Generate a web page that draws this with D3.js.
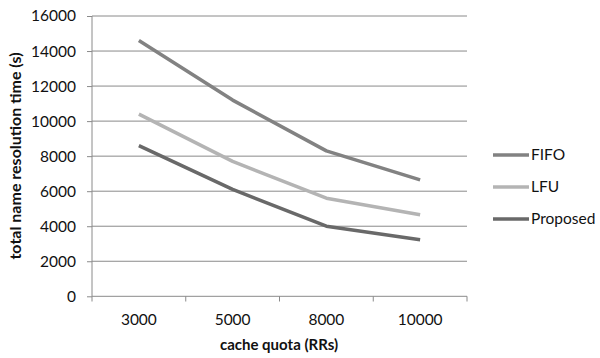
<!DOCTYPE html>
<html><head><meta charset="utf-8">
<script src="https://cdn.jsdelivr.net/npm/d3@7"></script>
<style>body{margin:0;background:#fff}svg{display:block}text{font-family:Lato,"Open Sans",sans-serif;fill:#111}</style>
</head><body><div id="c"></div>
<script>
const categories = ["3000","5000","8000","10000"];
const fifo = [14600, 11200, 8300, 6650];
const lfu = [10400, 7700, 5600, 4650];
const proposed = [8600, 6100, 4000, 3230];
const yTicks = [0,2000,4000,6000,8000,10000,12000,14000,16000];
const seriesNames = ["FIFO","LFU","Proposed"];
const seriesColors = ["#828282","#b4b4b4","#696969"];
const series = [fifo, lfu, proposed];

const W=600,H=358;
const svg=d3.select("#c").append("svg").attr("width",W).attr("height",H);
const x=d3.scaleBand().domain(categories).range([92,467]);
const y=d3.scaleLinear().domain([0,16000]).range([296.3,16]);

// grid
svg.append("g").selectAll("line").data(yTicks.filter(d=>d>0)).join("line")
 .attr("x1",92).attr("x2",467).attr("y1",d=>y(d)).attr("y2",d=>y(d))
 .attr("stroke","#8a8a8a").attr("stroke-width",1);

// y axis
const ya=svg.append("g").attr("transform","translate(92,0)").call(d3.axisLeft(y).tickValues(yTicks).tickSize(5).tickPadding(11).tickFormat(d3.format("d")));
ya.select(".domain").attr("stroke","#8a8a8a").attr("d","M0,16V296.3");
ya.selectAll(".tick line").attr("stroke","#8a8a8a");
ya.selectAll("text").attr("font-size","15.5px").attr("font-family","Lato").attr("fill","#111");

// x axis
const xa=svg.append("g").attr("transform","translate(0,296.3)").call(d3.axisBottom(x).tickSize(0).tickPadding(18));
xa.select(".domain").attr("stroke","#8a8a8a").attr("d","M92,0H467");
xa.selectAll("text").attr("font-size","15.5px").attr("font-family","Lato").attr("fill","#111");
const bounds=[92].concat(categories.map(c=>x(c)+x.bandwidth()));
svg.append("g").selectAll("line").data(bounds).join("line")
 .attr("x1",d=>d).attr("x2",d=>d).attr("y1",296.3).attr("y2",301.5).attr("stroke","#8a8a8a");

// lines
const line=d3.line().x((d,i)=>x(categories[i])+x.bandwidth()/2).y(d=>y(d));
series.forEach((s,k)=>{
 svg.append("path").datum(s).attr("d",line).attr("fill","none")
  .attr("stroke",seriesColors[k]).attr("stroke-width",3.5).attr("stroke-linejoin","round");
});

// legend
const lg=svg.append("g");
seriesNames.forEach((n,k)=>{
 const yy=155+k*32;
 lg.append("line").attr("x1",493).attr("x2",529).attr("y1",yy).attr("y2",yy)
  .attr("stroke",seriesColors[k]).attr("stroke-width",3.5);
 lg.append("text").attr("x",531).attr("y",yy).attr("dy","0.35em").attr("font-size","15.5px").text(n);
});

// titles
svg.append("text").attr("x",279).attr("y",350).attr("text-anchor","middle")
 .attr("font-size","15px").attr("font-weight","bold").text("cache quota (RRs)");
svg.append("text").attr("transform","translate(21,156) rotate(-90)").attr("text-anchor","middle")
 .attr("font-size","16px").attr("font-weight","bold").text("total name resolution time (s)");
</script></body></html>
